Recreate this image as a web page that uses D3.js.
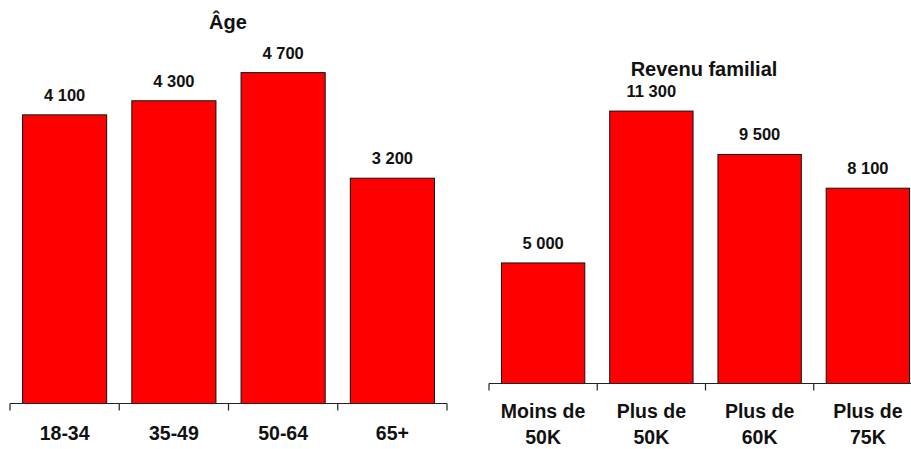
<!DOCTYPE html>
<html lang="fr">
<head>
<meta charset="utf-8">
<title>Âge et revenu familial</title>
<script src="https://cdn.jsdelivr.net/npm/d3@7"></script>
<style>
  body { margin: 0; background: #fff; }
  text { font-family: "Liberation Sans", Arial, sans-serif; font-weight: bold; fill: #111; }
</style>
</head>
<body>
<script>
// left panel
var ageCats = ["18-34", "35-49", "50-64", "65+"];
var ageValues = [4100, 4300, 4700, 3200];
// right panel
var incomeCats = [["Moins de", "50K"], ["Plus de", "50K"], ["Plus de", "60K"], ["Plus de", "75K"]];
var incomeValues = [5000, 11300, 9500, 8100];

var w = 911, h = 449;
var fmt = function(v) { return d3.format(",")(v).replace(/,/g, " "); };

var svg = d3.select("body").append("svg")
  .attr("width", w).attr("height", h);

function panel(opts) {
  var g = svg.append("g");
  var keys = d3.range(opts.values.length);

  var x = d3.scaleBand().domain(keys).range(opts.xRange)
    .paddingInner(0.23).paddingOuter(0.115);
  var y = d3.scaleLinear().domain([0, opts.yMax]).range(opts.yRange);
  var base = opts.yRange[0];
  var step = x.step();

  // bars
  g.selectAll("rect.bar").data(keys).enter().append("rect")
    .attr("class", "bar")
    .attr("x", function(i) { return x(i); })
    .attr("y", function(i) { return y(opts.values[i]); })
    .attr("width", x.bandwidth())
    .attr("height", function(i) { return base - y(opts.values[i]); })
    .attr("fill", "#ff0000")
    .attr("stroke", "#111")
    .attr("stroke-width", 1);

  // value labels
  g.selectAll("text.val").data(keys).enter().append("text")
    .attr("class", "val")
    .attr("x", function(i) { return x(i) + x.bandwidth() / 2; })
    .attr("y", function(i) { return y(opts.values[i]) - 14; })
    .attr("text-anchor", "middle")
    .attr("font-size", "16.5px")
    .text(function(i) { return fmt(opts.values[i]); });

  // axis line + ticks at band boundaries
  g.append("line")
    .attr("x1", opts.xRange[0]).attr("x2", opts.xRange[1])
    .attr("y1", base).attr("y2", base)
    .attr("stroke", "#222").attr("stroke-width", 1.2);
  var ticks = d3.range(opts.values.length + 1).map(function(k) { return opts.xRange[0] + k * step; });
  g.selectAll("line.tick").data(ticks).enter().append("line")
    .attr("class", "tick")
    .attr("x1", function(d) { return d; }).attr("x2", function(d) { return d; })
    .attr("y1", base).attr("y2", base + 7)
    .attr("stroke", "#222").attr("stroke-width", 1.2);

  // category labels
  var lab = g.selectAll("text.cat").data(keys).enter().append("text")
    .attr("class", "cat")
    .attr("text-anchor", "middle")
    .attr("font-size", "19.5px")
    .attr("x", function(i) { return x(i) + x.bandwidth() / 2; })
    .attr("y", opts.catY);
  lab.each(function(i) {
    var lines = [].concat(opts.cats[i]);
    var t = d3.select(this);
    lines.forEach(function(s, j) {
      t.append("tspan")
        .attr("x", x(i) + x.bandwidth() / 2)
        .attr("dy", j === 0 ? 0 : 26)
        .text(s);
    });
  });

  // title
  g.append("text")
    .attr("x", opts.titleX).attr("y", opts.titleY)
    .attr("text-anchor", "middle")
    .attr("font-size", "20px")
    .text(opts.title);
}

panel({
  values: ageValues, cats: ageCats, title: "Âge",
  xRange: [10, 447], yRange: [403.5, 51.5], yMax: 5000,
  catY: 440, titleX: 228, titleY: 29
});

panel({
  values: incomeValues, cats: incomeCats, title: "Revenu familial",
  xRange: [489, 922], yRange: [383.5, 94.2], yMax: 12000,
  catY: 418, titleX: 704, titleY: 76
});
</script>
</body>
</html>
